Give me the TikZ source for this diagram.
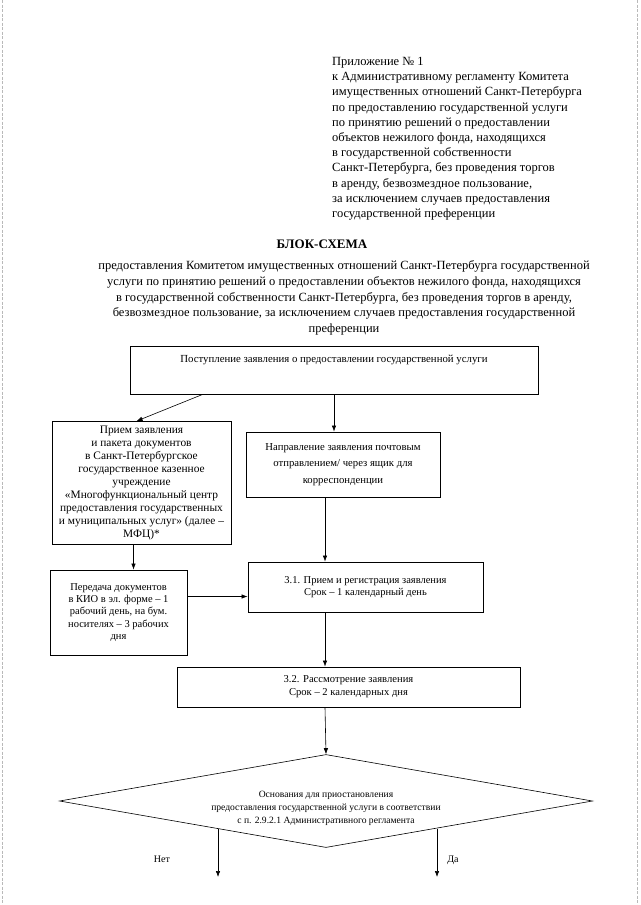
\documentclass[tikz,border=0pt]{standalone}
\usepackage{fontspec}
\setmainfont{Liberation Serif}
\usepackage{tikz}
\usetikzlibrary{positioning,arrows.meta,shapes.geometric,calc}

\begin{document}
\begin{tikzpicture}[
    x=1pt, y=-1pt,
    box/.style={draw, line width=0.9pt, inner sep=2pt, align=center,
                font=\fontsize{10.6}{13}\selectfont},
    arr/.style={-{Latex[length=6pt,width=4.5pt]}, line width=0.6pt},
    lbl/.style={font=\fontsize{10}{12}\selectfont},
    scan/.style={gray!55, line width=0.7pt, dash pattern=on 3pt off 1.5pt},
  ]
  \useasboundingbox (0,0) rectangle (640,905);
  % scanned page edges
  \draw[scan] (2,0) -- (2,905);
  \draw[scan] (637,0) -- (637,905);

  % Header
  \node[anchor=north west, inner sep=0, align=left,
        font=\fontsize{12.5}{15.2}\selectfont] (appx) at (332,57)
       {Приложение № 1\\
        к Административному регламенту Комитета\\
        имущественных отношений Санкт-Петербурга\\
        по предоставлению государственной услуги\\
        по принятию решений о предоставлении\\
        объектов нежилого фонда, находящихся\\
        в государственной собственности\\
        Санкт-Петербурга, без проведения торгов\\
        в аренду, безвозмездное пользование,\\
        за исключением случаев предоставления\\
        государственной преференции};
  \node[font=\fontsize{13}{15}\selectfont\bfseries] (title) at (322,244) {БЛОК-СХЕМА};
  \node[align=center, inner sep=0, font=\fontsize{12.5}{15.6}\selectfont] (subt) at (344,298)
       {предоставления Комитетом имущественных отношений Санкт-Петербурга государственной\\
        услуги по принятию решений о предоставлении объектов нежилого фонда, находящихся\\
        в государственной собственности Санкт-Петербурга, без проведения торгов в аренду,\\
        безвозмездное пользование, за исключением случаев предоставления государственной\\
        преференции};

  % Boxes
  \node[box, font=\fontsize{10.8}{13}\selectfont, minimum width=408pt,
        text height=13pt, text depth=29pt, inner ysep=3pt]
        (post) at (334,370)
        {Поступление заявления о предоставлении государственной услуги};
  \node[box, font=\fontsize{11.4}{13.1}\selectfont, inner xsep=1pt,
        minimum width=179pt, minimum height=123pt] (mfc) at (141.5,483)
        {Прием заявления\\и пакета документов\\в Санкт-Петербургское\\
         государственное казенное\\учреждение\\«Многофункциональный центр\\
         предоставления государственных\\и муниципальных услуг» (далее –\\МФЦ)*};
  \node[box, font=\fontsize{10.7}{16.5}\selectfont,
        minimum width=194pt, minimum height=65pt] (mail) at (343,464.5)
        {Направление заявления почтовым\\отправлением/ через ящик для\\корреспонденции};
  \node[box, font=\fontsize{10.5}{12.7}\selectfont,
        minimum width=235pt, minimum height=50pt] (reg) at (365.5,587)
        {3.1. Прием и регистрация заявления\\Срок – 1 календарный день};
  \node[box, font=\fontsize{10.5}{12.3}\selectfont,
        minimum width=137pt, minimum height=85pt] (pass) at (118.5,612.5)
        {Передача документов\\в КИО в эл. форме – 1\\рабочий день, на бум.\\
         носителях – 3 рабочих\\дня};
  \node[box, minimum width=343pt, minimum height=40pt] (rev) at (348.5,687)
        {3.2. Рассмотрение заявления\\Срок – 2 календарных дня};
  \node[box, diamond, aspect=5.6, line width=0.6pt, inner sep=0,
        font=\fontsize{9.6}{13}\selectfont,
        minimum width=533pt, minimum height=93pt] (susp) at (326,801)
        {\raisebox{-9pt}[0pt][0pt]{\begin{tabular}{@{}c@{}}
           Основания для приостановления\\
           предоставления государственной услуги в соответствии\\
           с п. 2.9.2.1 Административного регламента\end{tabular}}};

  % Axis of the main flow and free ends
  \coordinate (axis) at (325,0);
  \coordinate (no-end) at (218,877);
  \coordinate (yes-end) at (437,877);

  % Connectors
  \draw[arr] ([xshift=73pt]post.south west) -- ([xshift=85pt]mfc.north west);
  \draw[arr] (post.south) -- (post.south |- mail.north);
  \draw[arr] ([xshift=-8pt]mfc.south) -- ([xshift=-8pt]mfc.south |- pass.north);
  \draw[arr] (axis |- mail.south) -- (axis |- reg.north);
  \draw[arr] ([yshift=16pt]pass.east) -- ([yshift=16pt]pass.east -| reg.west);
  \draw[arr] (axis |- reg.south) -- (axis |- rev.north);
  \draw[arr] (axis |- rev.south) -- (susp.north);
  \draw[arr] (no-end |- {$(susp.west)!0.59!(susp.south)$}) -- (no-end);
  \draw[arr] (yes-end |- {$(susp.south)!0.41!(susp.east)$}) -- (yes-end);

  % Branch labels
  \node[lbl] (no) at (162,859) {Нет};
  \node[lbl] (yes) at (453,860) {Да};
\end{tikzpicture}
\end{document}
